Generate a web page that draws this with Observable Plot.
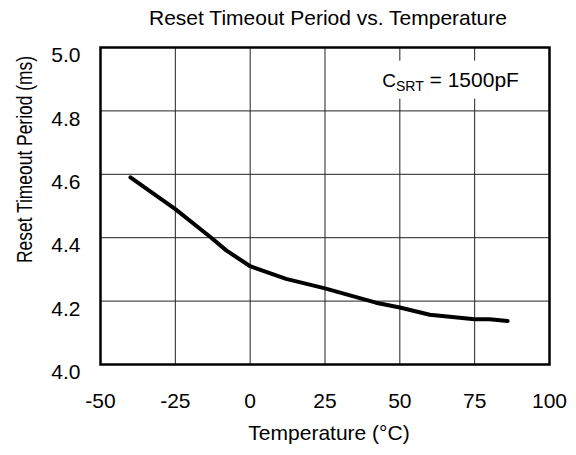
<!DOCTYPE html>
<html><head><meta charset="utf-8">
<script src="https://cdn.jsdelivr.net/npm/d3@7"></script>
<script src="https://cdn.jsdelivr.net/npm/@observablehq/plot@0.6"></script>
<style>body{margin:0;background:#fff} svg{display:block}</style>
</head><body><div id="chart"></div>
<script>
const temperature = [-40, -25, -13, -8, 0, 12, 25, 42, 50, 60, 75, 80, 86];
const period = [4.59, 4.49, 4.40, 4.36, 4.31, 4.27, 4.24, 4.195, 4.18, 4.157, 4.143, 4.143, 4.137];
const xTicks = [-50, -25, 0, 25, 50, 75, 100];
const yTicks = [4.0, 4.2, 4.4, 4.6, 4.8, 5.0];
const title = "Reset Timeout Period vs. Temperature";
const xLabel = "Temperature (°C)";
const yLabel = "Reset Timeout Period (ms)";
const noteSym = "C", noteSub = "SRT", noteRest = " = 1500pF";
const noteAt = {x: 44.3, y: 4.875};

const data = temperature.map((t, i) => ({t, p: period[i]}));
const font = "Arial, 'Liberation Sans', sans-serif";

const chart = Plot.plot({
  width: 576, height: 455,
  marginLeft: 100, marginRight: 27, marginTop: 47, marginBottom: 91,
  style: {fontFamily: font, background: "#fff", color: "#000"},
  x: {domain: [-50, 100], ticks: xTicks},
  y: {domain: [4.0, 5.0], ticks: yTicks},
  marks: [
    Plot.gridX(xTicks, {stroke: "#222", strokeOpacity: 1, strokeWidth: 1}),
    Plot.gridY(yTicks, {stroke: "#222", strokeOpacity: 1, strokeWidth: 1}),
    Plot.axisX({ticks: xTicks, tickSize: 0, tickPadding: 29, fontSize: 21, tickFormat: d => String(d), label: null}),
    Plot.axisY({ticks: yTicks, tickSize: 0, tickPadding: 20, fontSize: 21, tickFormat: d3.format(".1f"), dy: 8, label: null}),
    Plot.line(data, {x: "t", y: "p", stroke: "#000", strokeWidth: 4, curve: "linear"}),
    Plot.frame({stroke: "#000", strokeWidth: 2.5})
  ]
});
document.getElementById("chart").appendChild(chart);

const svg = d3.select(chart);
const sx = chart.scale("x"), sy = chart.scale("y");

// annotation with subscript
const g = svg.append("g").attr("font-family", font).attr("fill", "#000").attr("text-anchor", "start");
const rect = g.append("rect").attr("fill", "#fff");
const t = g.append("text").attr("x", sx.apply(noteAt.x)).attr("y", sy.apply(noteAt.y)).attr("font-size", 21);
t.append("tspan").attr("font-size", 19).text(noteSym);
t.append("tspan").attr("font-size", 14).attr("dy", 4).text(noteSub);
t.append("tspan").attr("dy", -4).text(noteRest);
const bb = t.node().getBBox();
rect.attr("x", bb.x - 6).attr("y", bb.y - 7).attr("width", bb.width + 12).attr("height", bb.height + 12);

// titles
svg.append("text").attr("x", 328).attr("y", 25).attr("text-anchor", "middle")
  .attr("font-family", font).attr("font-size", 21).attr("fill", "#000").text(title);
svg.append("text").attr("x", 329).attr("y", 440).attr("text-anchor", "middle")
  .attr("font-family", font).attr("font-size", 21).attr("fill", "#000").text(xLabel);
svg.append("text").attr("transform", "translate(32,263) rotate(-90)").attr("text-anchor", "start")
  .attr("font-family", font).attr("font-size", 22).attr("fill", "#000")
  .attr("textLength", 207).attr("lengthAdjust", "spacingAndGlyphs").text(yLabel);
</script></body></html>
